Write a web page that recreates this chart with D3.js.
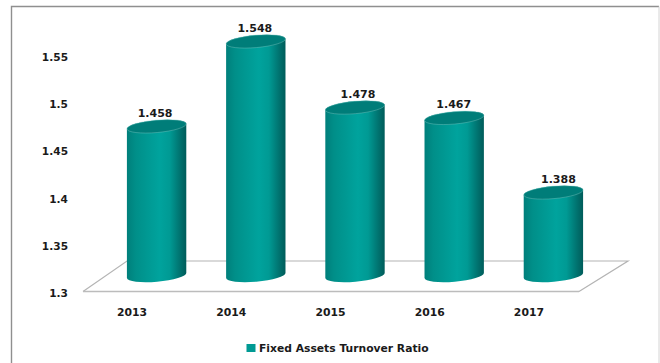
<!DOCTYPE html>
<html>
<head>
<meta charset="utf-8">
<script src="https://cdn.jsdelivr.net/npm/d3@7/dist/d3.min.js"></script>
<style>
html, body { margin: 0; padding: 0; background: #fff; }
svg { display: block; }
text { font-family: "DejaVu Sans", sans-serif; font-weight: 700; fill: #1a1a1a; }
</style>
</head>
<body>
<svg id="chart" width="660" height="363"></svg>
<script>
const years = ["2013", "2014", "2015", "2016", "2017"];
const ratios = [1.458, 1.548, 1.478, 1.467, 1.388];
const yTicks = [1.3, 1.35, 1.4, 1.45, 1.5, 1.55];
const seriesName = "Fixed Assets Turnover Ratio";

const svg = d3.select("#chart");

// Plot frame: the front edge of the floor and its value range
const frontLeft = 83, frontRight = 579, floorY = 291.5;
const depthX = 49, depthY = 30.5;
const barShiftX = 24, barShiftY = 16;
const rx = 29.8, ry = 6.2, tilt = -5;

// Hand-placed data labels drift a little from their bar centres
const labelNudge = { 2013: -1.5, 2014: -1, 2015: 3, 2016: -0.5, 2017: 5 };

const x = d3.scaleBand().domain(years).range([frontLeft, frontRight]);
const y = d3.scaleLinear().domain([1.3, 1.55]).range([floorY, 55.5]);

// Outer border, open along the bottom
svg.append("path").attr("d", "M11.5,363V6.5H659").attr("fill", "none").attr("stroke", "#8f8f8f").attr("stroke-width", 1.4);
svg.append("path").attr("d", "M659,6.5V363").attr("fill", "none").attr("stroke", "#d4d4d4").attr("stroke-width", 1);

// Cylinder shading, running left to right
const grad = svg.append("defs").append("linearGradient").attr("id", "cyl");
[[0, "#007f7b"], [0.15, "#008f89"], [0.55, "#00a39d"], [0.72, "#009a94"], [0.9, "#00716e"], [1, "#005c5a"]]
  .forEach(([o, c]) => grad.append("stop").attr("offset", o).attr("stop-color", c));

// Floor parallelogram
const floor = svg.append("g").attr("fill", "none");
floor.append("path")
  .attr("d", `M${frontLeft},${floorY}L${frontLeft + depthX - 5},${floorY - depthY}H${frontRight + depthX}L${frontRight},${floorY}`)
  .attr("stroke", "#b4b4b4").attr("stroke-width", 1.2);
floor.append("path").attr("d", `M${frontLeft},${floorY}H${frontRight}`).attr("stroke", "#bcbcbc").attr("stroke-width", 1.6);

// Value axis
const yAxis = svg.append("g").attr("transform", "translate(68,1.5)")
  .call(d3.axisLeft(y).tickValues(yTicks).tickSize(0).tickPadding(0).tickFormat(d3.format("~g")));
yAxis.select(".domain").remove();
yAxis.selectAll("text").attr("font-size", 10.6);

// Category axis
const xAxis = svg.append("g").attr("transform", `translate(-0.5,${floorY + 2})`)
  .call(d3.axisBottom(x).tickSize(0).tickPadding(15));
xAxis.select(".domain").remove();
xAxis.selectAll("text").attr("font-size", 10.8);

// Cylinders
const rad = tilt * Math.PI / 180;
const dx = rx * Math.cos(rad), dy = rx * Math.sin(rad);
const cx = d => x(d) + x.bandwidth() / 2 + barShiftX;
const bars = svg.append("g").selectAll("g").data(years.map((yr, i) => ({ yr, v: ratios[i] }))).join("g");

bars.append("path")
  .attr("fill", "url(#cyl)")
  .attr("d", d => {
    const c = cx(d.yr), top = y(d.v) - barShiftY, base = y(1.3) - barShiftY;
    return `M${c - dx},${top - dy}L${c - dx},${base - dy}`
      + `A${rx},${ry} ${tilt} 0 0 ${c + dx},${base + dy}`
      + `L${c + dx},${top + dy}`
      + `A${rx},${ry} ${tilt} 0 0 ${c - dx},${top - dy}Z`;
  });

bars.append("ellipse")
  .attr("rx", rx).attr("ry", ry)
  .attr("fill", "#007d79")
  .attr("stroke", "#7fc6c3").attr("stroke-width", 0.4)
  .attr("transform", d => `translate(${cx(d.yr)},${y(d.v) - barShiftY}) rotate(${tilt})`);

bars.append("text")
  .attr("x", d => cx(d.yr) + labelNudge[d.yr])
  .attr("y", d => y(d.v) - barShiftY - 9.5)
  .attr("text-anchor", "middle")
  .attr("font-size", 11)
  .text(d => d3.format(".3f")(d.v));

// Legend
const legend = svg.append("g").attr("transform", "translate(246.5,344)");
legend.append("rect").attr("width", 9).attr("height", 8).attr("fill", "#009a94");
legend.append("text").attr("x", 12.5).attr("y", 8).attr("font-size", 10.75).text(seriesName);
</script>
</body>
</html>
